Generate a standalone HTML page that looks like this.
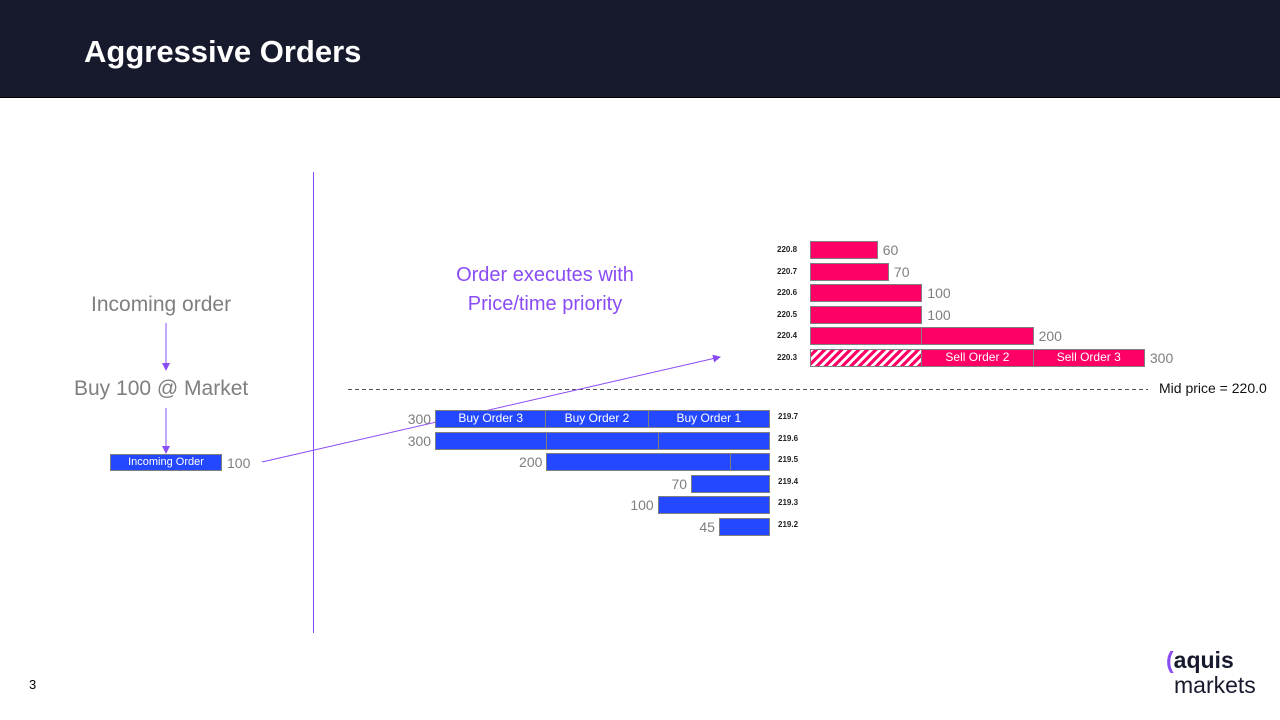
<!DOCTYPE html>
<html><head><meta charset="utf-8"><style>
body{margin:0;width:1280px;height:720px;position:relative;background:#fff;font-family:"Liberation Sans",sans-serif;overflow:hidden}
.abs{position:absolute}
.bar{position:absolute;box-sizing:border-box;border:1px solid #7f7f7f;color:#fff;font-size:12px;text-align:center;line-height:15px;white-space:nowrap}
.qty{position:absolute;color:#7f7f7f;font-size:14px;line-height:17px}
.px{position:absolute;font-size:8px;font-weight:bold;color:#222;line-height:17px}
</style></head><body>
<div class="abs" style="left:0;top:0;width:1280px;height:97px;background:#161a2c;border-bottom:1px solid #000"></div>
<div class="abs" style="left:84px;top:34px;color:#fff;font-size:31px;font-weight:bold">Aggressive Orders</div>
<svg class="abs" style="left:0;top:0" width="1280" height="720">
<defs><pattern id="h" width="7" height="7" patternUnits="userSpaceOnUse" patternTransform="rotate(45)"><rect width="7" height="7" fill="#fff"/><rect width="3.5" height="7" fill="#ff0066"/></pattern>
<marker id="ar" markerWidth="8" markerHeight="8" refX="7" refY="4" orient="auto"><path d="M0,0L8,4L0,8z" fill="#8a4cf5"/></marker></defs>
<line x1="313.5" y1="172" x2="313.5" y2="633" stroke="#8a4cf5" stroke-width="1"/>
<line x1="348" y1="389.5" x2="1148" y2="389.5" stroke="#555" stroke-dasharray="4,3"/>
<line x1="166" y1="323" x2="166" y2="370" stroke="#8a4cf5" marker-end="url(#ar)"/>
<line x1="166" y1="408" x2="166" y2="453" stroke="#8a4cf5" marker-end="url(#ar)"/>
<line x1="262" y1="462" x2="720" y2="357" stroke="#8a4cf5" marker-end="url(#ar)"/>
<g id="hatchg"></g>
</svg>
<div class="abs" style="left:91px;top:293px;color:#7f7f7f;font-size:21px">Incoming order</div>
<div class="abs" style="left:74px;top:377px;color:#7f7f7f;font-size:21px">Buy 100 @ Market</div>
<div class="bar" style="left:110px;top:454px;width:112px;height:17px;background:#2448ff;font-size:11px">Incoming Order</div>
<div class="qty" style="left:227px;top:455px">100</div>
<div class="abs" style="left:430px;top:261px;width:230px;text-align:center;color:#8a4cf5;font-size:20px;line-height:29px">Order executes with<br>Price/time priority</div>
<div class="abs" style="left:1159px;top:380px;font-size:14px;color:#111">Mid price = 220.0</div>
<div class="abs" style="left:29px;top:677px;font-size:13px">3</div>
<div class="abs" style="left:1166px;top:648px;font-size:23px;line-height:25px;color:#161a2c">
<span style="color:#8a4cf5;font-weight:bold">(</span><span style="font-weight:bold">aquis</span><br><span style="margin-left:8px">markets</span></div>
<div id="book"></div>
<script>
const sellPrices=["220.8","220.7","220.6","220.5","220.4","220.3"];
const sellQty=[60,70,100,100,200,300];
const sellSegs=[[60],[70],[100],[100],[100,100],[100,100,100]];
const sellSegLabels=[[""],[""],[""],[""],["",""],["","Sell Order 2","Sell Order 3"]];
const buyPrices=["219.7","219.6","219.5","219.4","219.3","219.2"];
const buyQty=[300,300,200,70,100,45];
const buySegs=[[109,92,99],[100,100,100],[35,165],[70],[100],[45]];
const buySegLabels=[["Buy Order 1","Buy Order 2","Buy Order 3"],["","",""],["",""],[""],[""],[""]];
const scale=1.113, sellX0=810, buyX0=769;
const sellY=i=>241+i*21.6, buyY=i=>410+i*21.6;
const book=document.getElementById('book');
function mk(cls,style,txt){const d=document.createElement('div');d.className=cls;d.style.cssText=style;d.textContent=txt;book.appendChild(d);return d;}
sellPrices.forEach((p,i)=>{
  const y=sellY(i);
  const pl=mk('px',`left:777px;top:${y}px`,p);
  
  
  let x=sellX0;
  sellSegs[i].forEach((s,j)=>{
    const w=s*scale;
    const hatched=(i===5&&j===0);
    const b=mk('bar',`left:${x}px;top:${y}px;width:${w+1}px;height:18px;background:${hatched?'repeating-linear-gradient(-45deg,#ff0066 0 3px,#fff 3px 6px)':'#ff0066'}`,sellSegLabels[i][j]);
    
    
    x+=w;
  });
  const q=mk('qty',`left:${x+6}px;top:${y+1}px`,String(sellQty[i]));
  
  
});
buyPrices.forEach((p,i)=>{
  const y=buyY(i);
  const pl=mk('px',`left:778px;top:${y-2}px`,p);
  
  
  let x=buyX0;
  buySegs[i].forEach((s,j)=>{
    const w=s*scale;
    const b=mk('bar',`left:${x-w}px;top:${y}px;width:${w+1}px;height:18px;background:#2448ff`,buySegLabels[i][j]);
    
    
    x-=w;
  });
  const q=mk('qty',`left:${x-42}px;top:${y+1}px;width:38px;text-align:right`,String(buyQty[i]));
  
  
});
</script>
</body></html>
